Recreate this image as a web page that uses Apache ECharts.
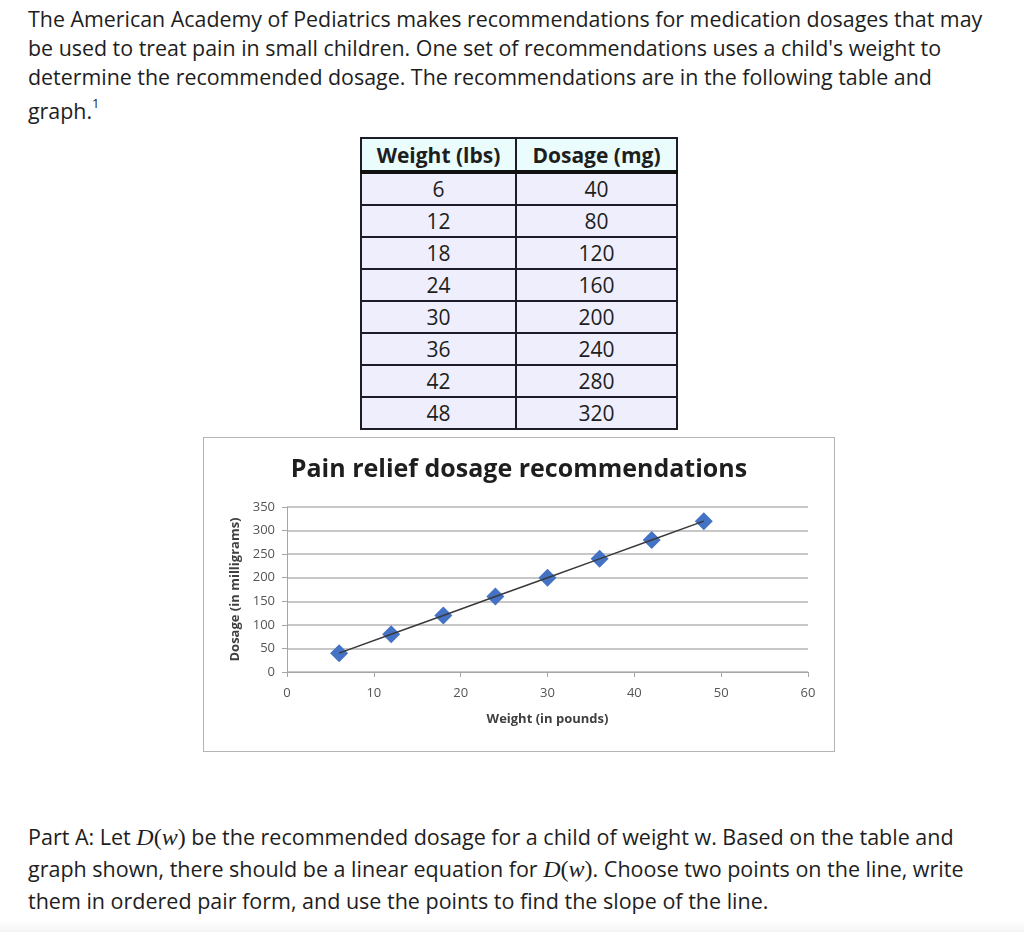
<!DOCTYPE html>
<html>
<head>
<meta charset="utf-8">
<script src="https://cdn.jsdelivr.net/npm/echarts@6/dist/echarts.min.js"></script>
<style>
  html, body { margin: 0; padding: 0; background: #fff; }
  body { width: 1024px; height: 932px; position: relative; overflow: hidden; font-family: "Open Sans", sans-serif; color: #1e1e1e; }
  .txt { position: absolute; left: 28px; font-size: 21.4px; white-space: nowrap; }
  .top { top: 4px; line-height: 29px; }
  .graph { top: 92px; line-height: 29px; }
  .graph sup { font-size: 13px; position: relative; top: -3px; }
  .bottom { top: 821px; line-height: 32px; font-size: 21.5px; }
  .m { font-family: "Liberation Serif", serif; font-size: 24px; }
  .mi { font-style: italic; }
  table { position: absolute; left: 360px; top: 137px; border-collapse: collapse; font-size: 21px; }
  td, th { border: 2px solid #1c1c2a; text-align: center; padding: 0; height: 30px; }
  th { background: #eafcfc; font-weight: 700; height: 31px; border-bottom: 4px solid #111; }
  td { background: #eeeefc; }
  th.c1, td.c1 { width: 153px; }
  th.c2, td.c2 { width: 159px; }
  #box { position: absolute; left: 203px; top: 437px; width: 632px; height: 315px; box-sizing: border-box; border: 1px solid #b4b4b4; }
  #chart { width: 630px; height: 313px; }
  .fade { position: absolute; left: 0; top: 920px; width: 1024px; height: 12px; background: linear-gradient(#fff, #f4f4f4); }
</style>
</head>
<body>
<div class="txt top">The American Academy of Pediatrics makes recommendations for medication dosages that may<br>be used to treat pain in small children. One set of recommendations uses a child's weight to<br>determine the recommended dosage. The recommendations are in the following table and</div>
<div class="txt graph">graph.<sup>1</sup></div>
<table id="tbl"></table>
<div id="box"><div id="chart"></div></div>
<div class="txt bottom">Part A: Let <span class="m"><span class="mi">D</span>(<span class="mi">w</span>)</span> be the recommended dosage for a child of weight w. Based on the table and<br>graph shown, there should be a linear equation for <span class="m"><span class="mi">D</span>(<span class="mi">w</span>)</span>. Choose two points on the line, write<br>them in ordered pair form, and use the points to find the slope of the line.</div>
<div class="fade"></div>
<script>
const weights = [6, 12, 18, 24, 30, 36, 42, 48];
const dosages = [40, 80, 120, 160, 200, 240, 280, 320];
const tableHeaders = ["Weight (lbs)", "Dosage (mg)"];
const chartTitle = "Pain relief dosage recommendations";
const xAxisName = "Weight (in pounds)";
const yAxisName = "Dosage (in milligrams)";

// Table
const tbl = document.getElementById('tbl');
let html = '<tr><th class="c1">' + tableHeaders[0] + '</th><th class="c2">' + tableHeaders[1] + '</th></tr>';
for (let i = 0; i < weights.length; i++) {
  html += '<tr><td class="c1">' + weights[i] + '</td><td class="c2">' + dosages[i] + '</td></tr>';
}
tbl.innerHTML = html;

// Chart
const points = weights.map((w, i) => [w, dosages[i]]);
const chart = echarts.init(document.getElementById('chart'));
const labelFont = { fontFamily: 'Open Sans', fontSize: 13, color: '#555' };
chart.setOption({
  animation: false,
  title: {
    text: chartTitle, left: 'center', top: 14,
    textStyle: { fontFamily: 'Open Sans', fontSize: 25, fontWeight: 'bold', color: '#1e1e1e' }
  },
  grid: { left: 83, right: 26, top: 69, bottom: 79 },
  xAxis: {
    type: 'value', min: 0, max: 60, interval: 10,
    name: xAxisName, nameLocation: 'middle', nameGap: 41,
    nameTextStyle: { fontFamily: 'Open Sans', fontSize: 13, fontWeight: 'bold', color: '#404040' },
    axisLine: { show: true, lineStyle: { color: '#a6a6a6', width: 1 } },
    axisTick: { show: true, length: 5, lineStyle: { color: '#a6a6a6' } },
    axisLabel: Object.assign({ margin: 15 }, labelFont),
    splitLine: { show: false }
  },
  yAxis: {
    type: 'value', min: 0, max: 350, interval: 50,
    name: yAxisName, nameLocation: 'middle', nameGap: 44, nameRotate: 90,
    nameTextStyle: { fontFamily: 'Open Sans', fontSize: 13, fontWeight: 'bold', color: '#404040' },
    axisLine: { show: true, onZero: false, lineStyle: { color: '#a6a6a6', width: 1 } },
    axisTick: { show: true, length: 5, lineStyle: { color: '#a6a6a6' } },
    axisLabel: Object.assign({ margin: 12 }, labelFont),
    splitLine: { show: true, lineStyle: { color: '#b5b5b5', width: 1.5 } }
  },
  series: [
    {
      type: 'line', data: points, showSymbol: false, symbol: 'none',
      lineStyle: { color: '#3a3a3a', width: 1.5 }, z: 3
    },
    {
      type: 'scatter', data: points, symbol: 'diamond', symbolSize: 18,
      itemStyle: { color: '#4472c4', opacity: 1 }, z: 2
    }
  ]
});
</script>
</body>
</html>
